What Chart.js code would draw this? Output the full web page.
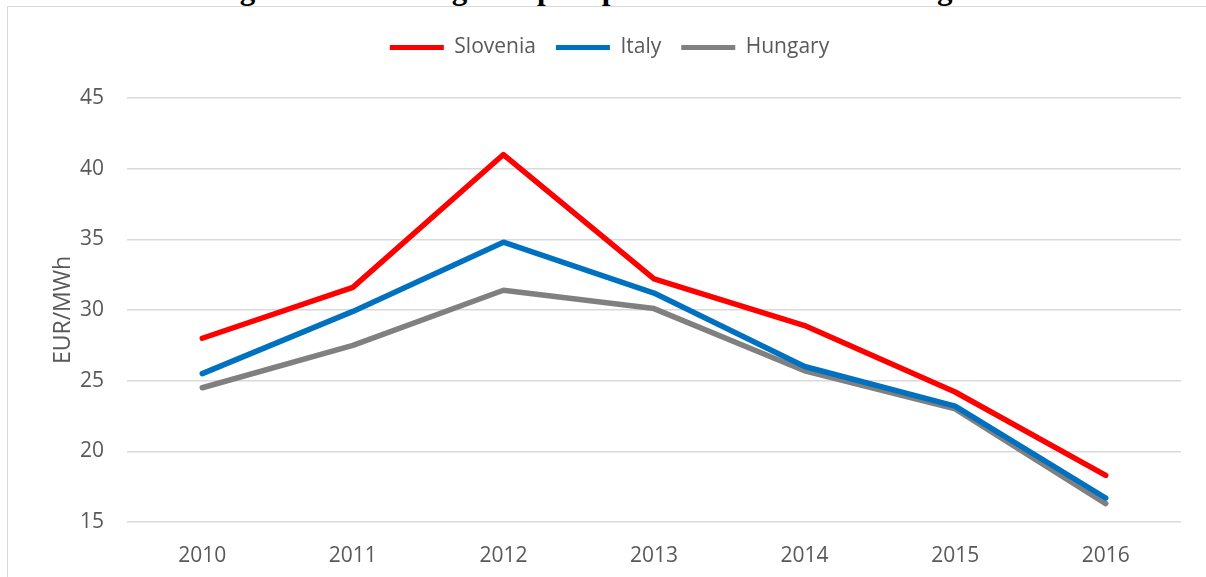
<!DOCTYPE html>
<html>
<head>
<meta charset="utf-8">
<script src="https://cdn.jsdelivr.net/npm/chart.js@4"></script>
<style>
  html, body { margin: 0; padding: 0; background: #fff; overflow: hidden; }
  #wrap { position: relative; width: 1206px; height: 577px; overflow: hidden; }
  #title {
    position: absolute; left: 0; width: 1206px; top: -27px;
    text-align: center; font: bold 31px "Liberation Serif", "Times New Roman", serif;
    line-height: 31px; color: #000; white-space: nowrap;
  }
  #frame {
    position: absolute; left: 7px; top: 6px; width: 1400px; height: 800px;
    border: 1px solid #d9d9d9; pointer-events: none;
  }
  #chart { position: absolute; left: 0; top: 0; }
</style>
</head>
<body>
<div id="wrap">
  <div id="title">Figure 3: Natural gas import prices in the CEE/SEE region</div>
  <div id="frame"></div>
  <canvas id="chart" width="1206" height="577"></canvas>
</div>
<script>
const years = ["2010", "2011", "2012", "2013", "2014", "2015", "2016"];
const slovenia = [28.0, 31.6, 41.0, 32.2, 28.9, 24.2, 18.3];
const italy = [25.5, 29.9, 34.8, 31.2, 26.0, 23.2, 16.7];
const hungary = [24.5, 27.5, 31.4, 30.1, 25.7, 23.0, 16.3];

const textColour = "#595959";
const tickFont = { family: "'Open Sans', sans-serif", size: 21 };

function lineSeries(label, data, colour) {
  return {
    label: label,
    data: data,
    borderColor: colour,
    backgroundColor: colour,
    borderWidth: 5.5,
    pointRadius: 0,
    tension: 0,
    borderCapStyle: "round",
    borderJoinStyle: "round",
  };
}

// push the plot area down below the legend and nudge the legend right, like the original
const legendGap = {
  id: "legendGap",
  beforeInit(chart) {
    const fit = chart.legend.fit;
    chart.legend.fit = function () {
      fit.bind(chart.legend)();
      this.height += 30;
    };
  },
  afterLayout(chart) {
    chart.legend.left += 15;
    chart.legend.right += 15;
  },
};

const chart = new Chart(document.getElementById("chart"), {
  type: "line",
  data: {
    labels: years,
    datasets: [
      lineSeries("Slovenia", slovenia, "#ff0000"),
      lineSeries("Italy", italy, "#0070c0"),
      lineSeries("Hungary", hungary, "#808080"),
    ],
  },
  plugins: [legendGap],
  options: {
    responsive: false,
    animation: false,
    layout: { padding: { left: 8, right: 25, top: 17, bottom: 0 } },
    plugins: {
      tooltip: { enabled: false },
      legend: {
        position: "top",
        labels: {
          color: textColour,
          font: tickFont,
          boxWidth: 54,
          boxHeight: 5,
          padding: 20,
          generateLabels: (c) =>
            Chart.defaults.plugins.legend.labels.generateLabels(c).map((item) => {
              item.lineWidth = 0;
              return item;
            }),
        },
      },
    },
    scales: {
      x: {
        offset: true,
        grid: { display: false },
        border: { display: false },
        ticks: { color: textColour, font: tickFont, padding: 13, maxRotation: 0 },
        afterFit: (scale) => { scale.height = 55; },
      },
      y: {
        min: 15,
        max: 45,
        ticks: { stepSize: 5, color: textColour, font: tickFont, padding: 23 },
        grid: { color: "#d9d9d9", lineWidth: 1.5, drawTicks: false },
        border: { display: false },
        title: {
          display: true,
          text: "EUR/MWh",
          color: textColour,
          font: { family: "'Open Sans', sans-serif", size: 23 },
          padding: { top: 42, bottom: 0 },
        },
        afterFit: (scale) => { scale.width = 119; },
      },
    },
  },
});
</script>
</body>
</html>
